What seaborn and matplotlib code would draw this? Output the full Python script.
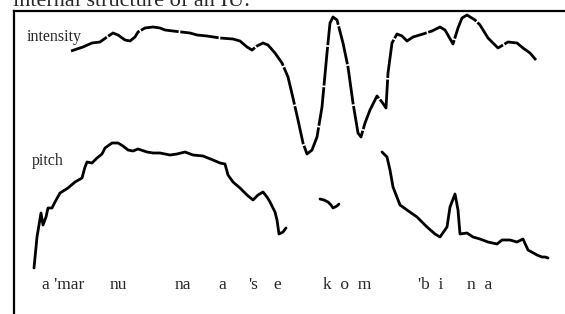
import numpy as np
import pandas as pd
import matplotlib
matplotlib.use('Agg')
import matplotlib.pyplot as plt
import seaborn as sns

# 强度曲线 (x 为时间位置, y 为纵向位置, 数值由图上读取)
intensity_x = [71, 83, 92, 100, 107, 113, 118, 125, 130, 135, 138, 145, 153, 160, 165, 173,
               190, 197, 207, 220, 233, 240, 247, 252, 257, 263, 268, 275, 282, 288, 293, 298,
               303, 307, 312, 317, 322, 327, 330, 333, 337, 343, 348, 353, 358, 361, 365, 370,
               377, 382, 386, 388, 392, 397, 402, 407, 413, 423, 432, 440, 445, 453, 458, 462,
               467, 475, 480, 488, 498, 508, 517, 523, 530, 536]
intensity_y = [51, 47, 43, 42, 37, 33, 35, 40, 41, 37, 32, 28, 27, 28, 30, 31,
               33, 35, 36, 38, 39, 41, 47, 50, 46, 43, 45, 53, 63, 77, 98, 120,
               143, 154, 150, 137, 107, 53, 23, 17, 20, 43, 67, 103, 133, 137, 123, 110,
               96, 102, 108, 73, 43, 34, 36, 41, 37, 34, 31, 27, 30, 44, 28, 18,
               15, 20, 25, 38, 48, 42, 43, 48, 53, 60]

# 音高曲线, 三段
pitch1_x = [34, 37, 41, 43, 46, 48, 52, 55, 60, 68, 75, 82, 85, 87, 92, 97, 102, 105, 112,
            118, 123, 128, 133, 138, 147, 153, 160, 170, 177, 185, 193, 203, 213, 220, 225,
            228, 233, 240, 247, 253, 258, 263, 267, 270, 275, 277, 279, 283, 286]
pitch1_y = [268, 237, 213, 225, 217, 208, 208, 202, 193, 188, 182, 178, 167, 162, 163, 158,
            154, 148, 143, 143, 146, 150, 151, 149, 152, 153, 153, 155, 154, 152, 155, 156,
            160, 163, 164, 175, 182, 188, 195, 200, 195, 192, 197, 202, 212, 220, 234, 232, 228]

pitch2_x = [320, 324, 328, 331, 333, 337, 339]
pitch2_y = [199, 200, 202, 205, 208, 206, 204]

pitch3_x = [382, 387, 390, 393, 400, 407, 417, 427, 435, 440, 447, 450, 455, 458, 460, 467,
            473, 480, 488, 497, 502, 510, 517, 523, 528, 537, 542, 545, 548]
pitch3_y = [152, 157, 170, 187, 205, 210, 217, 227, 234, 237, 227, 207, 194, 210, 234, 233,
            237, 239, 242, 244, 240, 240, 242, 239, 250, 255, 257, 257, 258]

# 音节标注
syllables = ["a 'mar", "nu", "na", "a", "'s", "e", "k  o  m", "'b  i", "n  a"]
syllable_x = [42, 110, 175, 218, 248, 273, 323, 418, 467]

sns.set_style('white')
plt.rcParams['font.family'] = ['Liberation Serif', 'DejaVu Serif']

fig = plt.figure(figsize=(5.65, 3.14), dpi=100)
ax = fig.add_axes([14 / 565, 0, 551 / 565, 303 / 314])

# 强度曲线: 细小间隙的虚线
sns.lineplot(x=intensity_x, y=intensity_y, sort=False, color='black', lw=2, ax=ax)
ax.lines[-1].set_dashes((14, 0.6))
for px, py in [(pitch1_x, pitch1_y), (pitch2_x, pitch2_y), (pitch3_x, pitch3_y)]:
    sns.lineplot(x=px, y=py, sort=False, color='black', lw=2, ax=ax)

ax.set_xlim(14, 565)
ax.set_ylim(314, 11)
ax.set_xticks([])
ax.set_yticks([])
ax.set_xlabel('')
ax.set_ylabel('')
for side in ['right', 'bottom']:
    ax.spines[side].set_visible(False)
for side in ['left', 'top']:
    ax.spines[side].set_color('black')
    ax.spines[side].set_linewidth(1.6)

ax.text(27, 41, 'intensity', fontsize=11.5, va='baseline', ha='left')
ax.text(32, 165, 'pitch', fontsize=11.5, va='baseline', ha='left')
for s, sx in zip(syllables, syllable_x):
    ax.text(sx, 289, s, fontsize=12.5, va='baseline', ha='left')

fig.text(13 / 565, 1 - 6 / 314, 'internal structure of an IU:', fontsize=16,
         va='baseline', ha='left')

fig.savefig('out.png', dpi=100)
